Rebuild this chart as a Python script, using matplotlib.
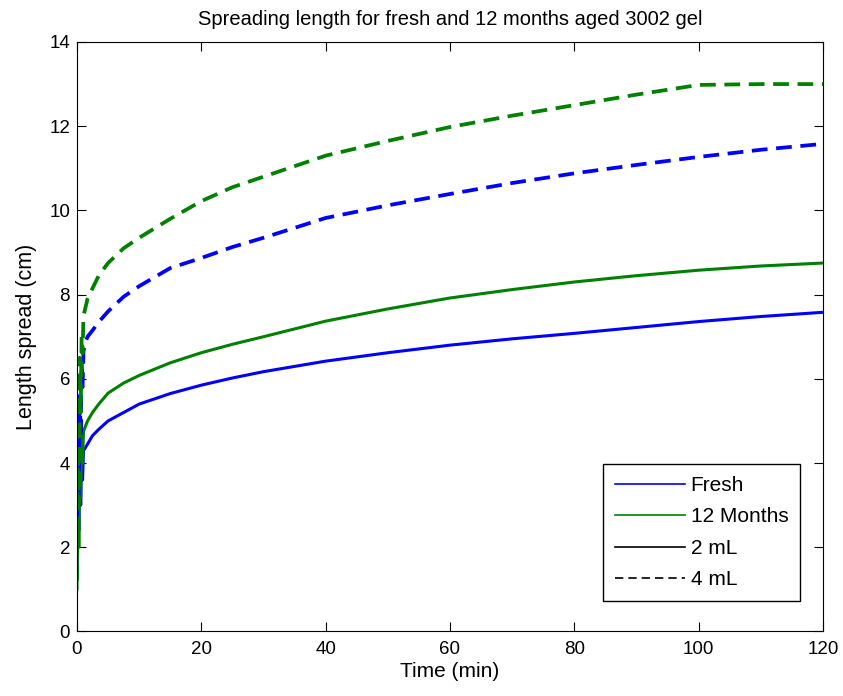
import matplotlib
matplotlib.use("Agg")
import matplotlib.pyplot as plt
from matplotlib.lines import Line2D

plt.rcParams['font.family'] = ['Liberation Sans', 'DejaVu Sans']

time_min = [0, 0.15, 0.3, 0.45, 0.6, 0.75, 0.9, 1.05, 1.3, 1.7, 2.5, 3.5, 5, 7.5, 10, 15, 20, 25, 30, 40, 50, 60, 70, 80, 90, 100, 110, 120]

fresh_2ml = [1.4, 3.6, 2.4, 4.1, 3.0, 4.3, 3.6, 4.3, 4.35, 4.45, 4.65, 4.8, 5.0, 5.2, 5.4, 5.65, 5.85, 6.02, 6.17, 6.42, 6.62, 6.8, 6.95, 7.08, 7.22, 7.36, 7.48, 7.58]
months_2ml = [1.0, 4.4, 2.0, 4.6, 3.2, 4.8, 4.0, 4.75, 4.85, 5.0, 5.2, 5.4, 5.66, 5.9, 6.08, 6.38, 6.62, 6.82, 7.0, 7.37, 7.66, 7.92, 8.12, 8.3, 8.45, 8.58, 8.68, 8.75]
fresh_4ml = [2.5, 4.3, 3.2, 5.6, 4.6, 6.4, 5.8, 6.65, 6.85, 7.0, 7.15, 7.35, 7.6, 7.95, 8.2, 8.63, 8.87, 9.13, 9.35, 9.82, 10.12, 10.39, 10.65, 10.88, 11.08, 11.27, 11.44, 11.58]
months_4ml = [1.2, 4.2, 3.0, 6.5, 5.2, 7.0, 6.6, 7.5, 7.65, 7.9, 8.15, 8.45, 8.75, 9.1, 9.35, 9.8, 10.22, 10.55, 10.8, 11.3, 11.65, 11.98, 12.25, 12.5, 12.75, 12.98, 13.0, 13.0]

blue = '#0000ff'
green = '#008000'

fig = plt.figure(figsize=(8.43, 6.96), dpi=100)
ax = fig.add_axes([0.0913, 0.0927, 0.885, 0.847])

ax.plot(time_min, fresh_2ml, color=blue, lw=2.2, solid_joinstyle='round')
ax.plot(time_min, months_2ml, color=green, lw=2.2, solid_joinstyle='round')
ax.plot(time_min, fresh_4ml, color=blue, lw=2.7, ls=(0, (4.2, 2.3)))
ax.plot(time_min, months_4ml, color=green, lw=2.7, ls=(0, (4.2, 2.3)))

ax.set_xlim(0, 120)
ax.set_ylim(0, 14)
ax.set_xticks(range(0, 121, 20))
ax.set_yticks(range(0, 15, 2))
ax.tick_params(direction='in', top=True, right=True, labelsize=13.5, length=6.5)
ax.tick_params(axis='x', pad=7)
ax.tick_params(axis='y', pad=5)
ax.set_xlabel('Time (min)', fontsize=15, labelpad=3)
ax.set_ylabel('Length spread (cm)', fontsize=15.5, labelpad=9)
ax.set_title('Spreading length for fresh and 12 months aged 3002 gel', fontsize=14.5, pad=12)

handles = [
    Line2D([], [], color=blue, lw=1.2),
    Line2D([], [], color=green, lw=1.2),
    Line2D([], [], color='black', lw=1.2),
    Line2D([], [], color='black', lw=1.2, ls=(0, (5, 3))),
]
labels = ['Fresh', '12 Months', '2 mL', '4 mL']
leg = ax.legend(handles, labels, loc='lower right', bbox_to_anchor=(0.969, 0.052),
                fontsize=15, fancybox=False, edgecolor='black', framealpha=1,
                handlelength=3.4, handletextpad=0.25, labelspacing=0.6,
                borderpad=0.55, borderaxespad=0)
leg.get_frame().set_linewidth(1.0)

fig.savefig('out.png', dpi=100)
